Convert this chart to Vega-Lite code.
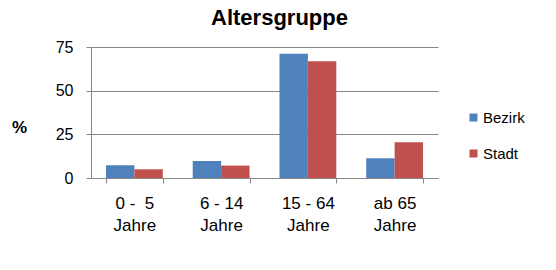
{
  "$schema": "https://vega.github.io/schema/vega-lite/v6.json",
  "width": 347,
  "height": 131,
  "autosize": {"type": "none"},
  "padding": {"left": 91, "top": 47, "right": 118, "bottom": 92},
  "background": "white",
  "config": {
    "view": {"stroke": null},
    "font": "Liberation Sans",
    "axis": {"labelFont": "Liberation Sans", "titleFont": "Liberation Sans"}
  },
  "title": {
    "text": "Altersgruppe",
    "font": "Liberation Sans",
    "fontSize": 22,
    "fontWeight": "bold",
    "color": "black",
    "anchor": "middle",
    "dx": 15,
    "offset": 9
  },
  "data": {
    "values": [
      {"gruppe": "0 -  5 Jahre", "serie": "Bezirk", "wert": 7.3},
      {"gruppe": "0 -  5 Jahre", "serie": "Stadt", "wert": 5.0},
      {"gruppe": "6 - 14 Jahre", "serie": "Bezirk", "wert": 9.7},
      {"gruppe": "6 - 14 Jahre", "serie": "Stadt", "wert": 7.1},
      {"gruppe": "15 - 64 Jahre", "serie": "Bezirk", "wert": 71.2},
      {"gruppe": "15 - 64 Jahre", "serie": "Stadt", "wert": 66.8},
      {"gruppe": "ab 65 Jahre", "serie": "Bezirk", "wert": 11.3},
      {"gruppe": "ab 65 Jahre", "serie": "Stadt", "wert": 20.4}
    ]
  },
  "mark": {"type": "bar"},
  "encoding": {
    "x": {
      "field": "gruppe",
      "type": "nominal",
      "sort": null,
      "scale": {"paddingInner": 0.345, "paddingOuter": 0.1725},
      "axis": {
        "title": null,
        "labelAngle": 0,
        "labelExpr": "datum.label ? [replace(replace(datum.label, ' Jahre', ''), '  ', ' \u00a0'), 'Jahre'] : ''",
        "labelFontSize": 17,
        "labelColor": "black",
        "labelLineHeight": 22,
        "labelPadding": 12,
        "labelOverlap": false,
        "tickBand": "extent",
        "ticks": true,
        "tickSize": 5,
        "tickColor": "#868686",
        "domainColor": "#868686",
        "grid": false
      }
    },
    "xOffset": {"field": "serie", "type": "nominal"},
    "y": {
      "field": "wert",
      "type": "quantitative",
      "scale": {"domain": [0, 75], "nice": false},
      "axis": {
        "values": [0, 25, 50, 75],
        "title": "%",
        "titleAngle": 0,
        "titleFontSize": 17,
        "titleFontWeight": "bold",
        "titleColor": "black",
        "titleX": -72,
        "titleY": 80,
        "titleAlign": "center",
        "titleBaseline": "middle",
        "labelFontSize": 16,
        "labelColor": "black",
        "labelPadding": 13,
        "tickSize": 5,
        "tickColor": "#868686",
        "domainColor": "#868686",
        "gridColor": "#868686",
        "gridOpacity": 1
      }
    },
    "color": {
      "field": "serie",
      "type": "nominal",
      "scale": {"domain": ["Bezirk", "Stadt"], "range": ["#4f81bd", "#c0504d"]},
      "legend": {
        "title": null,
        "orient": "none",
        "legendX": 375,
        "legendY": 63,
        "symbolType": "square",
        "symbolSize": 64,
        "symbolStrokeWidth": 0,
        "symbolOpacity": 1,
        "labelFontSize": 15,
        "labelColor": "black",
        "labelOffset": 2,
        "rowPadding": 20
      }
    }
  }
}
